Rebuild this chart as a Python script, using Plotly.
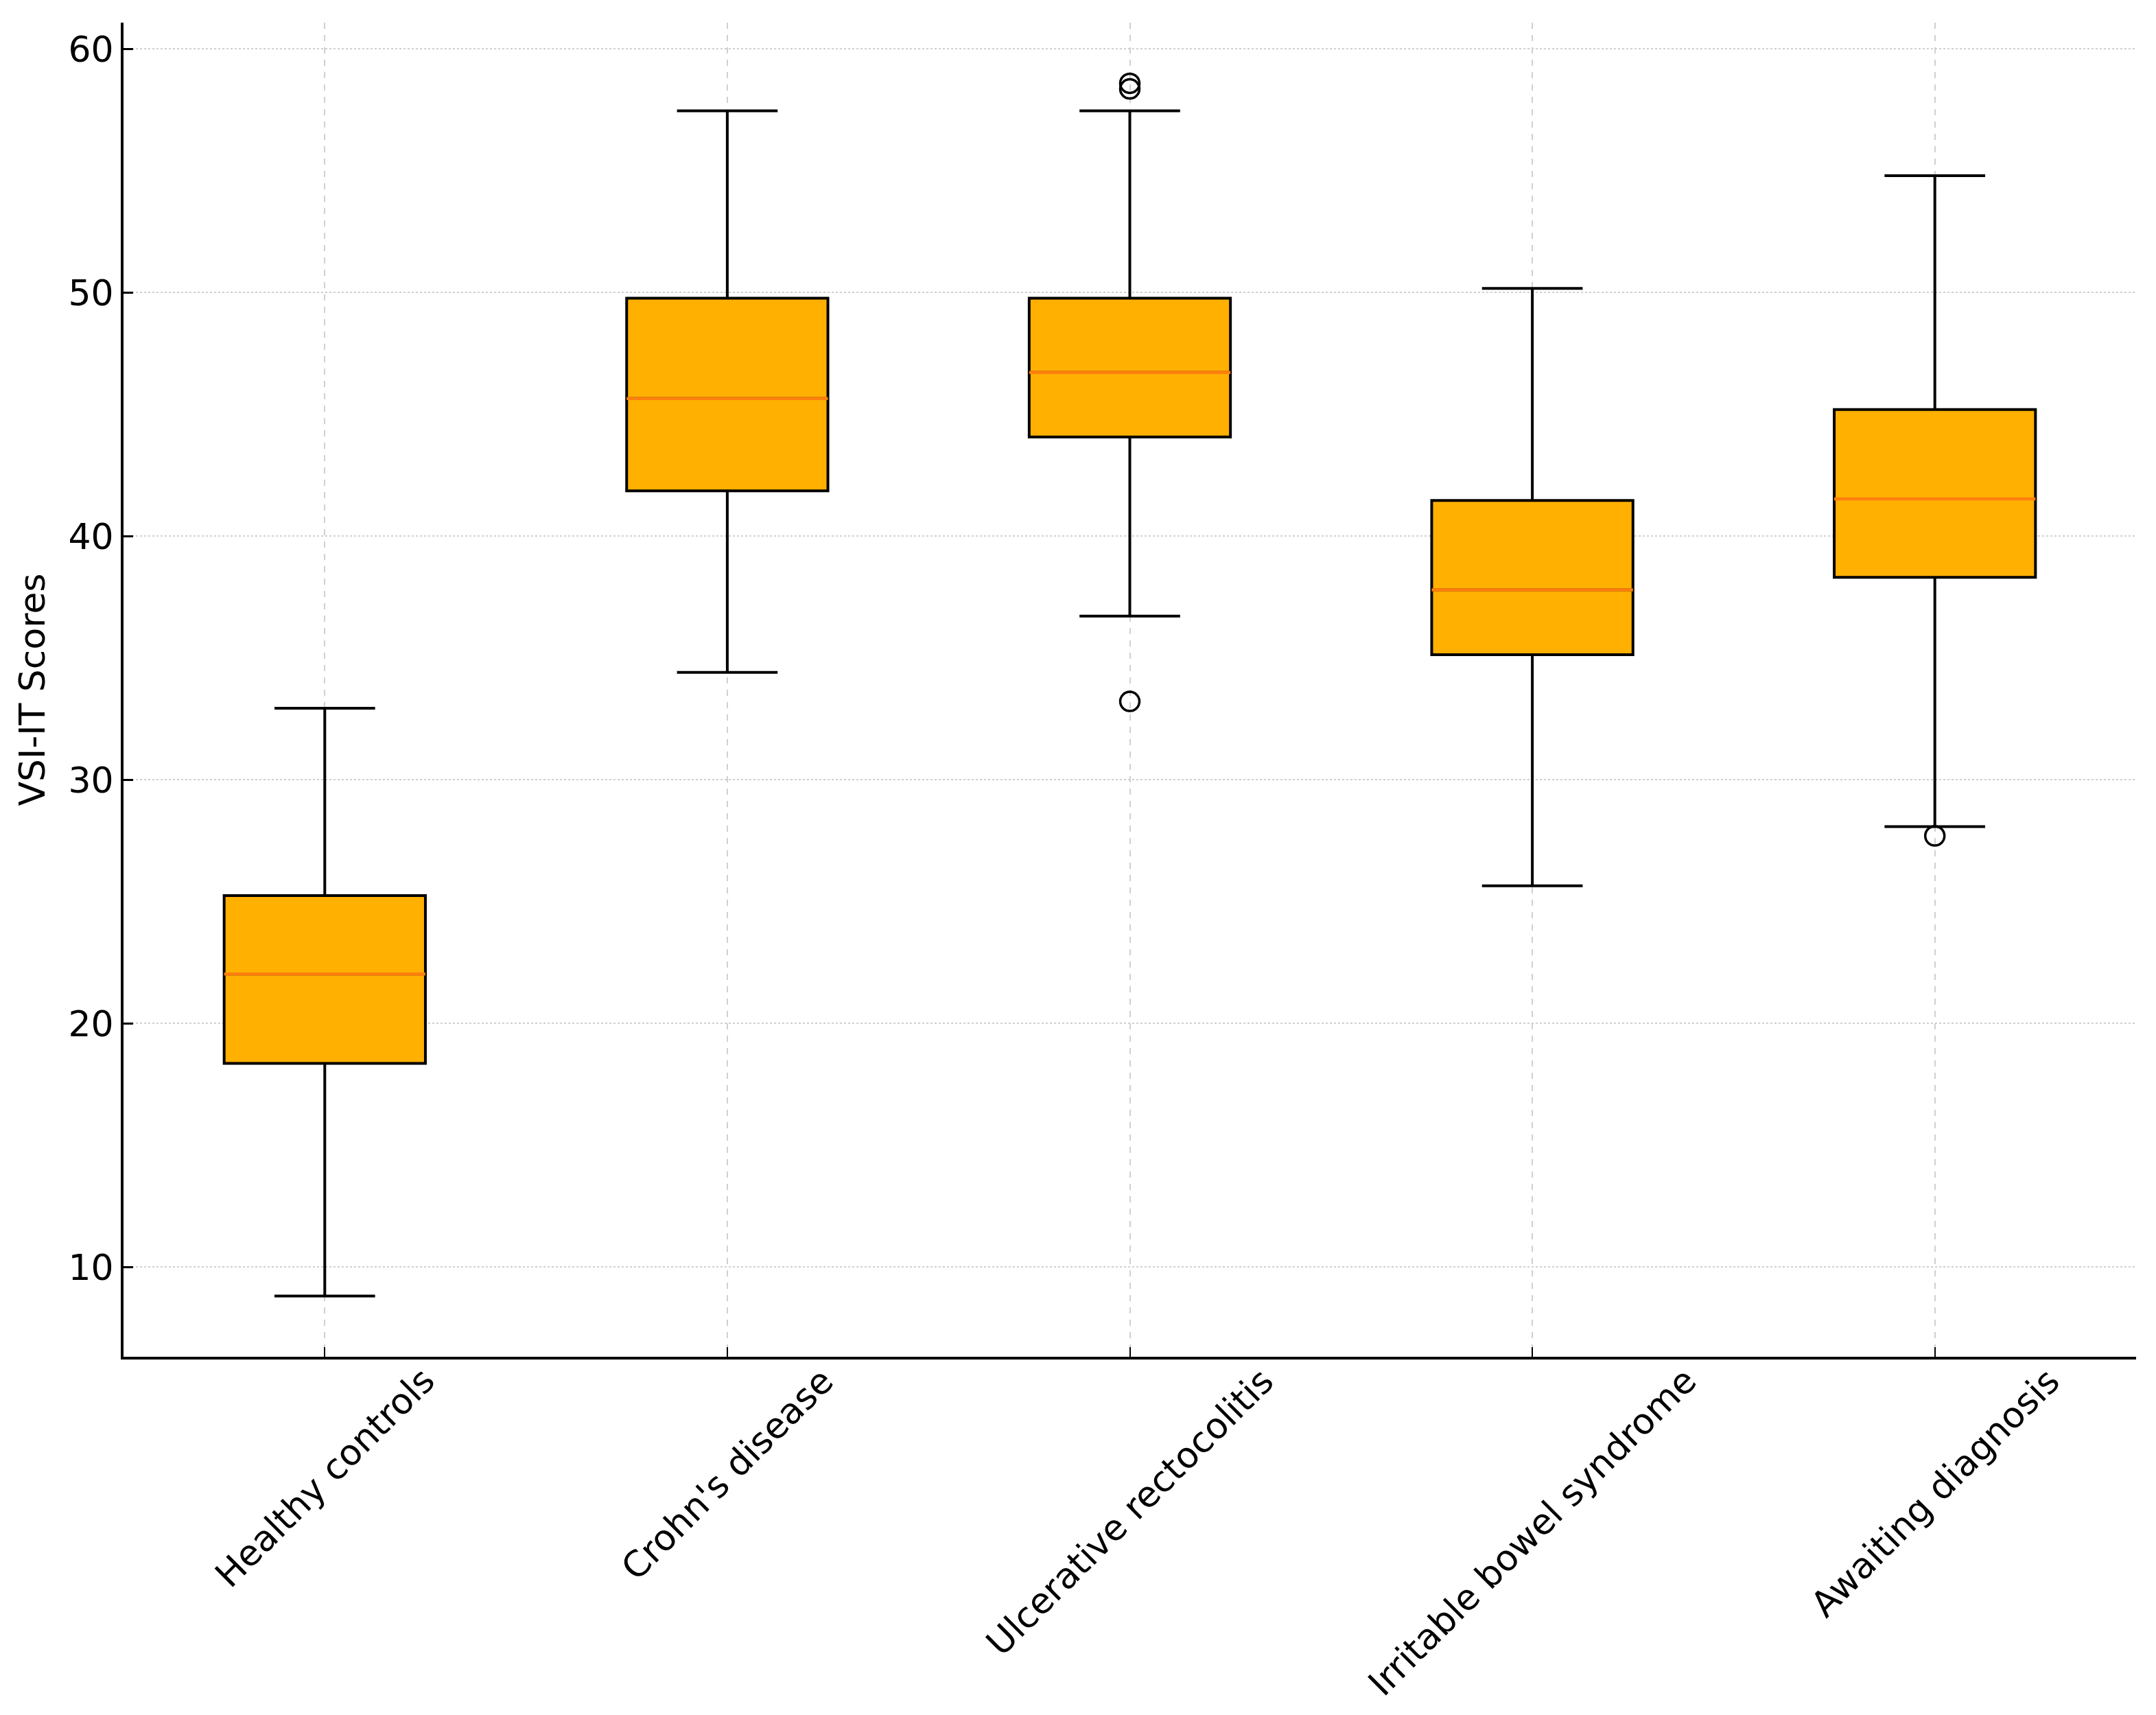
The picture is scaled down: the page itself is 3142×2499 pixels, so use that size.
import plotly.graph_objects as go

categories = ["Healthy controls", "Crohn's disease", "Ulcerative rectocolitis",
              "Irritable bowel syndrome", "Awaiting diagnosis"]
lower_whisker = [8.81, 34.41, 36.72, 25.65, 28.08]
q1_values = [18.36, 41.86, 44.07, 35.14, 38.31]
median_values = [22.03, 45.65, 46.72, 37.80, 41.53]
q3_values = [25.25, 49.77, 49.77, 41.47, 45.20]
upper_whisker = [32.94, 57.46, 57.46, 50.17, 54.80]

outlier_groups = ["Ulcerative rectocolitis", "Ulcerative rectocolitis",
                  "Ulcerative rectocolitis", "Awaiting diagnosis"]
outlier_values = [58.59, 58.36, 33.22, 27.70]

y_ticks = [10, 20, 30, 40, 50, 60]
y_title = "VSI-IT Scores"

FONT = "DejaVu Sans"
FS = 52

fig = go.Figure()

fig.add_trace(go.Box(
    x=categories,
    q1=q1_values, median=median_values, q3=q3_values,
    lowerfence=lower_whisker, upperfence=upper_whisker,
    fillcolor="#FFB000",
    line=dict(color="black", width=4),
    whiskerwidth=0.5,
    boxpoints=False,
    showlegend=False,
))

# median lines in orange, overlaid
fig.add_trace(go.Box(
    x=categories,
    q1=median_values, median=median_values, q3=median_values,
    lowerfence=median_values, upperfence=median_values,
    fillcolor="rgba(0,0,0,0)",
    line=dict(color="#FF7F0E", width=4.5),
    whiskerwidth=0,
    boxpoints=False,
    showlegend=False,
))

fig.add_trace(go.Scatter(
    x=outlier_groups, y=outlier_values, mode="markers",
    marker=dict(symbol="circle-open", size=28, color="black", line=dict(width=3.5)),
    showlegend=False,
))

for c in categories:
    fig.add_annotation(
        x=c, xref="x", y=0, yref="paper",
        text=c, showarrow=False, textangle=-45,
        xanchor="center", yanchor="top", yshift=-2,
        font=dict(family=FONT, size=FS, color="black"),
    )

fig.update_layout(
    width=3134, height=2491,
    margin=dict(l=172, r=29, t=25, b=522),
    paper_bgcolor="white", plot_bgcolor="white",
    boxmode="overlay", boxgap=0.5, boxgroupgap=0,
    font=dict(family=FONT, size=FS, color="black"),
)

fig.update_xaxes(
    type="category", range=[-0.5, 4.5],
    showticklabels=False,
    showline=True, linecolor="black", linewidth=4,
    ticks="inside", ticklen=14, tickwidth=2, tickcolor="black",
    showgrid=True, gridcolor="#d0d0d0", gridwidth=2, griddash="dash",
    zeroline=False,
)
fig.update_yaxes(
    range=[6.32, 61.08],
    tickvals=y_ticks,
    showline=True, linecolor="black", linewidth=4,
    ticks="inside", ticklen=14, tickwidth=3, tickcolor="black",
    tickfont=dict(family=FONT, size=FS, color="black"),
    ticklabelstandoff=0,
    showgrid=True, gridcolor="#d0d0d0", gridwidth=2, griddash="dot",
    zeroline=False,
    title=dict(text=y_title, font=dict(family=FONT, size=FS, color="black"), standoff=18),
)

fig.write_html("out.html")
